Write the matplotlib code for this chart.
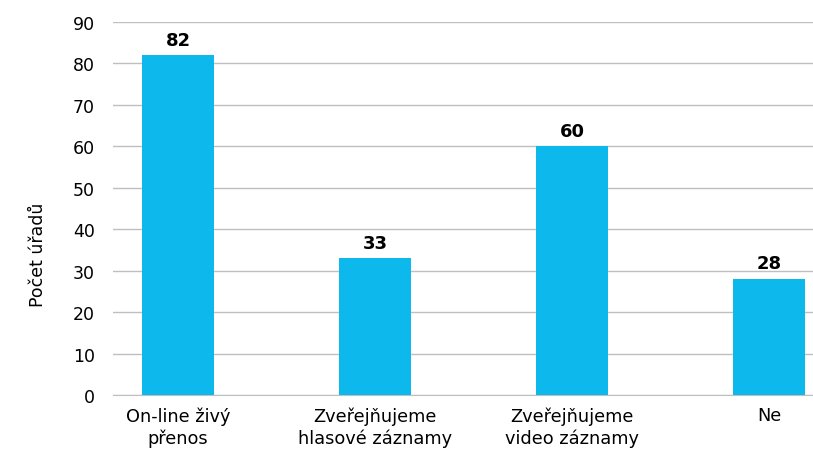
import matplotlib
matplotlib.use("Agg")
import matplotlib.pyplot as plt

plt.rcParams['font.family'] = ['DejaVu Sans']

categories = ["On-line živý\npřenos", "Zveřejňujeme\nhlasové záznamy",
              "Zveřejňujeme\nvideo záznamy", "Ne"]
values = [82, 33, 60, 28]
yticks = [0, 10, 20, 30, 40, 50, 60, 70, 80, 90]

fig = plt.figure(figsize=(8.13, 4.52), dpi=100)
ax = fig.add_axes([0.139, 0.1239, 0.861, 0.8252])

x = range(len(values))
ax.bar(x, values, width=0.365, color="#0DB9EC", zorder=3)
for xi, v in zip(x, values):
    ax.text(xi, v + 1.6, str(v), ha="center", va="bottom",
            fontsize=13, fontweight="bold", color="black")

ax.set_ylim(0, 90)
ax.set_xlim(-0.33, 3.223)
ax.set_yticks(yticks)
ax.set_xticks(list(x))
ax.set_xticklabels(categories, fontsize=12.8, linespacing=1.25)
ax.tick_params(axis="y", labelsize=12.5, length=0, pad=13)
ax.tick_params(axis="x", length=0, pad=8)
ax.grid(axis="y", color="#BFBFBF", linewidth=1, zorder=0)
for s in ["top", "right", "left"]:
    ax.spines[s].set_visible(False)
ax.spines["bottom"].set_color("#BFBFBF")
ax.set_ylabel("Počet úřadů", fontsize=12.5)
ax.yaxis.set_label_coords(-0.095, 0.378)

fig.savefig("out.png", dpi=100)
